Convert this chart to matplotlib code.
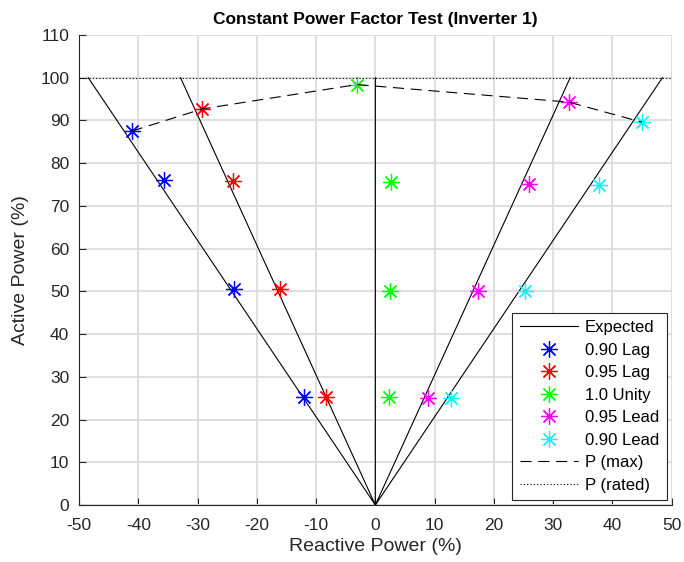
import numpy as np
import matplotlib
matplotlib.use("Agg")
import matplotlib.pyplot as plt

plt.rcParams['font.family'] = ['Liberation Sans', 'DejaVu Sans']
plt.rcParams['axes.unicode_minus'] = False

# measured points (reactive %, active %)
lag90_q = [-41.1, -35.6, -23.8, -12.0]
lag90_p = [87.5, 76.0, 50.6, 25.3]
lag95_q = [-29.2, -24.0, -16.1, -8.4]
lag95_p = [92.7, 75.8, 50.5, 25.3]
unity_q = [-3.1, 2.6, 2.4, 2.3]
unity_p = [98.4, 75.5, 50.2, 25.2]
lead95_q = [32.6, 26.0, 17.4, 8.8]
lead95_p = [94.3, 75.2, 50.2, 25.1]
lead90_q = [45.0, 37.7, 25.2, 12.8]
lead90_p = [89.6, 75.0, 50.0, 25.1]

# expected lines, power factors
pf_list = [0.90, 0.95, 1.0, 0.95, 0.90]
pf_sign = [-1, -1, 0, 1, 1]
p_rated = 100

exp_q = []
exp_p = []
for pf, s in zip(pf_list, pf_sign):
    q = s * p_rated * np.tan(np.arccos(pf))
    exp_q += [0, q, np.nan]
    exp_p += [0, p_rated, np.nan]

pmax_q = [lag90_q[0], lag95_q[0], unity_q[0], lead95_q[0], lead90_q[0]]
pmax_p = [lag90_p[0], lag95_p[0], unity_p[0], lead95_p[0], lead90_p[0]]

fig = plt.figure(figsize=(6.84, 5.62), dpi=100)
ax = fig.add_axes([0.1155, 0.1014, 0.8665, 0.8363])

ax.plot(exp_q, exp_p, color='black', lw=0.8, label='Expected')
mk = (8, 2, 0)
ax.plot(lag90_q, lag90_p, ls='none', marker=mk, ms=12, mew=0.9, color=(0, 0, 1), label='0.90 Lag')
ax.plot(lag95_q, lag95_p, ls='none', marker=mk, ms=12, mew=0.9, color=(1, 0, 0), label='0.95 Lag')
ax.plot(unity_q, unity_p, ls='none', marker=mk, ms=12, mew=0.9, color=(0, 1, 0), label='1.0 Unity')
ax.plot(lead95_q, lead95_p, ls='none', marker=mk, ms=12, mew=0.9, color=(1, 0, 1), label='0.95 Lead')
ax.plot(lead90_q, lead90_p, ls='none', marker=mk, ms=12, mew=0.9, color=(0, 1, 1), label='0.90 Lead')
ax.plot(pmax_q, pmax_p, color='black', lw=0.8, ls=(0, (10, 6)), label='P (max)')
ax.plot([-50, 50], [p_rated, p_rated], color='black', lw=0.8, ls=(0, (1, 2)), label='P (rated)')

ax.set_xlim(-50, 50)
ax.set_ylim(0, 110)
ax.set_xticks(range(-50, 51, 10))
ax.set_yticks(range(0, 111, 10))
ax.grid(True, color='#dcdcdc', lw=1.3)
ax.set_axisbelow(True)
ax.spines['top'].set_visible(False)
ax.spines['right'].set_visible(False)
ax.tick_params(direction='in', labelsize=12.5, length=5, colors='#262626', labelcolor='#262626')
ax.tick_params(axis='x', pad=9)
ax.tick_params(axis='y', pad=7)
for s in ['left', 'bottom']:
    ax.spines[s].set_color('#262626')

ax.set_xlabel('Reactive Power (%)', fontsize=14, color='#262626', labelpad=4)
ax.set_ylabel('Active Power (%)', fontsize=14, color='#262626', labelpad=8)
ax.set_title('Constant Power Factor Test (Inverter 1)', fontsize=12.5, fontweight='bold', pad=8)

leg = ax.legend(loc='lower right', fontsize=12, fancybox=False, edgecolor='#262626',
                framealpha=1, handlelength=3.5, borderaxespad=0.3, labelspacing=0.45,
                handletextpad=0.4, borderpad=0.45)
leg.get_frame().set_linewidth(0.8)

fig.savefig('out.png', dpi=100)
